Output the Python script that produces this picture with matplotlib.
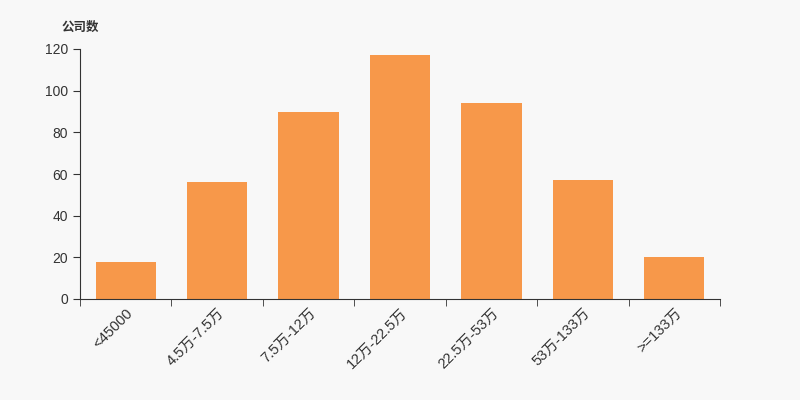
import matplotlib
matplotlib.use("Agg")
import matplotlib.pyplot as plt
import numpy as np

plt.rcParams['font.family'] = ['Liberation Sans', 'Noto Sans CJK SC', 'DejaVu Sans']

# datos del grafico
categorias = ["<45000", "4.5万-7.5万", "7.5万-12万", "12万-22.5万", "22.5万-53万", "53万-133万", ">=133万"]
empresas = [18, 56, 90, 117, 94, 57, 20]
yticks = [0, 20, 40, 60, 80, 100, 120]

fondo = "#f8f8f8"
fig = plt.figure(figsize=(8, 4), dpi=100, facecolor=fondo)
ax = fig.add_axes([0.1, 0.2525, 0.8, 0.625], facecolor=fondo)

x = np.arange(len(categorias))
ax.bar(x, empresas, width=0.66, color="#f7984a")

ax.set_xlim(-0.5, len(categorias) - 0.5)
ax.set_ylim(0, 120)
ax.set_yticks(yticks)

# etiquetas en el centro, marcas en los limites
ax.set_xticks(x)
ax.set_xticklabels(categorias, rotation=45, ha="right", va="top",
                   rotation_mode="anchor", fontsize=10.5, color="#333333")
ax.tick_params(axis="x", which="major", length=0, pad=5)
ax.set_xticks(np.arange(len(categorias) + 1) - 0.5, minor=True)
ax.tick_params(axis="x", which="minor", length=5, color="#333333")
ax.tick_params(axis="y", length=5, color="#333333", labelsize=10, labelcolor="#333333")

for s in ["top", "right"]:
    ax.spines[s].set_visible(False)
for s in ["left", "bottom"]:
    ax.spines[s].set_color("#333333")

fig.text(0.1, 0.932, "公司数", ha="center", va="center", fontsize=9,
         fontweight="bold", color="#333333", family=["Noto Sans CJK SC"])

fig.savefig("out.png", dpi=100, facecolor=fondo)
